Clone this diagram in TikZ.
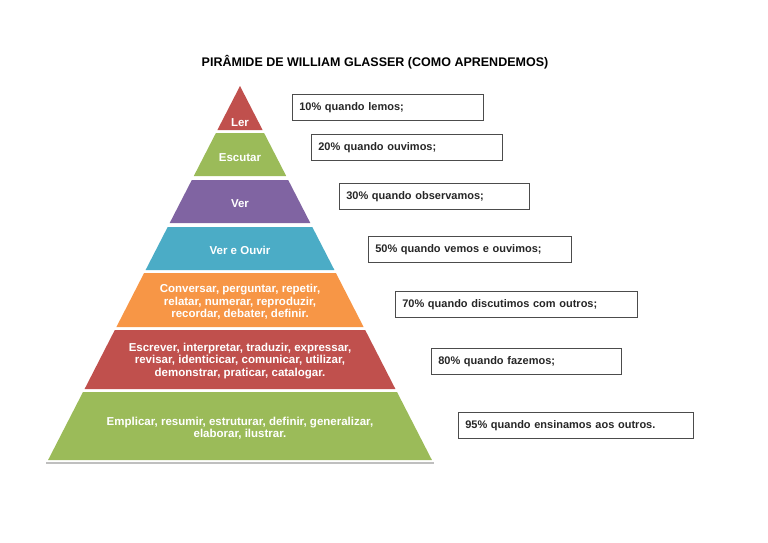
\documentclass[tikz,border=0pt]{standalone}
\usepackage{fontspec}
\setmainfont{Liberation Sans}
\begin{document}
\begin{tikzpicture}[x=1pt,y=-1pt,
 lbl/.style={text=white,font=\bfseries\fontsize{11.5}{12.5}\selectfont,align=center},
 box/.style={draw=black!70,line width=0.6pt,anchor=north west,minimum height=26pt,inner xsep=7pt,inner ysep=4pt,align=left,font=\bfseries\fontsize{11}{12}\selectfont,text=black!85}]
\useasboundingbox (0,0) rectangle (768,543);
\definecolor{cR}{HTML}{C0504D}\definecolor{cG}{HTML}{9BBB59}\definecolor{cP}{HTML}{8064A2}
\definecolor{cB}{HTML}{4BACC6}\definecolor{cO}{HTML}{F79646}
\node (title) at (375,62) {\bfseries\fontsize{12.5}{14}\selectfont PIRÂMIDE DE WILLIAM GLASSER (COMO APRENDEMOS)};
\fill[black!25] (46,462) -- (434,462) -- (434,464) -- (46,464) -- cycle;
\fill[cR] (240,86) -- (262.6,130) -- (217.4,130) -- cycle;
\fill[cG] (215.9,133) -- (264.1,133) -- (286.2,176) -- (193.8,176) -- cycle;
\fill[cP] (191.8,180) -- (288.2,180) -- (310.3,223) -- (169.7,223) -- cycle;
\fill[cB] (167.7,227) -- (312.3,227) -- (334.4,270) -- (145.6,270) -- cycle;
\fill[cO] (144.1,273) -- (335.9,273) -- (363.6,327) -- (116.4,327) -- cycle;
\fill[cR] (114.8,330) -- (365.2,330) -- (395.4,389) -- (84.6,389) -- cycle;
\fill[cG] (83,392) -- (397,392) -- (431.9,460) -- (48.1,460) -- cycle;
\node[lbl] (l1) at (240,123) {Ler};
\node[lbl] (l2) at (240,158) {Escutar};
\node[lbl] (l3) at (240,204) {Ver};
\node[lbl] (l4) at (240,250) {Ver e Ouvir};
\node[lbl] (l5) at (240,302) {Conversar, perguntar, repetir,\\relatar, numerar, reproduzir,\\recordar, debater, definir.};
\node[lbl] (l6) at (240,361) {Escrever, interpretar, traduzir, expressar,\\revisar, identicicar, comunicar, utilizar,\\demonstrar, praticar, catalogar.};
\node[lbl] (l7) at (240,428) {Emplicar, resumir, estruturar, definir, generalizar,\\elaborar, ilustrar.};
\node[box,text width=177pt] (b1) at (292,94) {10\% quando lemos;};
\node[box,text width=177pt] (b2) at (311,134) {20\% quando ouvimos;};
\node[box,text width=176pt] (b3) at (339,183) {30\% quando observamos;};
\node[box,text width=189pt] (b4) at (368,236) {50\% quando vemos e ouvimos;};
\node[box,text width=228pt] (b5) at (395,291) {70\% quando discutimos com outros;};
\node[box,text width=176pt] (b6) at (431,348) {80\% quando fazemos;};
\node[box,text width=221pt] (b7) at (458,412) {95\% quando ensinamos aos outros.};
\end{tikzpicture}
\end{document}
